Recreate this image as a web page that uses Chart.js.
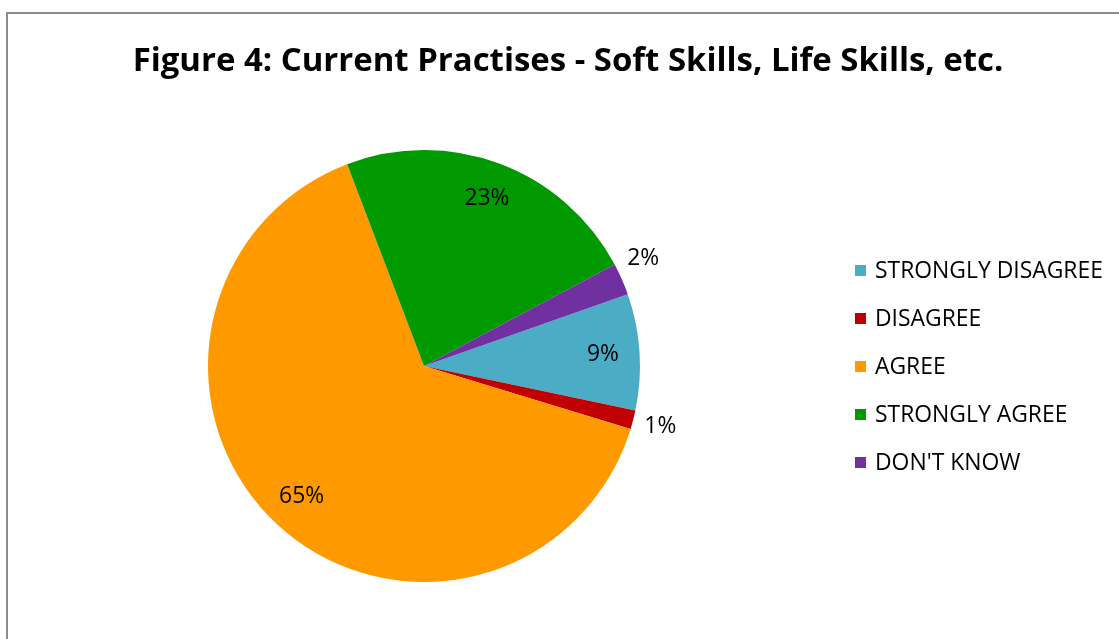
<!DOCTYPE html>
<html>
<head>
<meta charset="utf-8">
<script src="https://cdn.jsdelivr.net/npm/chart.js@4/dist/chart.umd.min.js"></script>
<style>
html,body{margin:0;padding:0;background:#fff;}
canvas{display:block;}
</style>
</head>
<body>
<canvas id="c" width="1119" height="639"></canvas>
<script>
const titleText = 'Figure 4: Current Practises - Soft Skills, Life Skills, etc.';
const categories = ['STRONGLY DISAGREE', 'DISAGREE', 'AGREE', 'STRONGLY AGREE', "DON'T KNOW"];
const values = [8.7, 1.4, 64.5, 23.0, 2.4];
const valueLabels = ['9%', '1%', '65%', '23%', '2%'];
const colors = ['#4BACC6', '#C00000', '#FF9900', '#009900', '#7030A0'];

const FONT = '"Open Sans", "Liberation Sans", sans-serif';

function fitFont(ctx, text, weight, baseSize, targetWidth) {
  ctx.font = weight + ' ' + baseSize + 'px ' + FONT;
  const w = ctx.measureText(text).width;
  return baseSize * targetWidth / w;
}

const decor = {
  id: 'decor',
  beforeDraw(chart) {
    const ctx = chart.ctx;
    ctx.save();
    ctx.fillStyle = '#fff';
    ctx.fillRect(0, 0, chart.width, chart.height);
    ctx.strokeStyle = '#8c8c8c';
    ctx.lineWidth = 2;
    ctx.beginPath();
    ctx.moveTo(7, chart.height + 5);
    ctx.lineTo(7, 13);
    ctx.lineTo(chart.width + 5, 13);
    ctx.stroke();
    // title
    const ts = fitFont(ctx, titleText, 'bold', 30, 871);
    ctx.font = 'bold ' + ts + 'px ' + FONT;
    ctx.fillStyle = '#000';
    ctx.textAlign = 'center';
    ctx.textBaseline = 'middle';
    ctx.fillText(titleText, 568, 62);
    ctx.restore();
  },
  afterDraw(chart) {
    const ctx = chart.ctx;
    const meta = chart.getDatasetMeta(0);
    ctx.save();
    // data labels
    ctx.fillStyle = '#000';
    ctx.textAlign = 'center';
    ctx.textBaseline = 'middle';
    const ds = fitFont(ctx, '65%', 'normal', 20, 45);
    ctx.font = ds + 'px ' + FONT;
    meta.data.forEach((arc, i) => {
      const p = arc.getProps(['x', 'y', 'startAngle', 'endAngle', 'outerRadius'], true);
      let mid = (p.startAngle + p.endAngle) / 2;
      const small = values[i] < 5;
      const r = small ? p.outerRadius + 28 : p.outerRadius * 0.83;
      if (small && Math.cos(mid) > 0 && Math.sin(mid) < 0) mid -= 0.04;
      ctx.fillText(valueLabels[i], p.x + Math.cos(mid) * r, p.y + Math.sin(mid) * r);
    });
    // legend
    const ls = fitFont(ctx, categories[0], 'normal', 20, 228);
    ctx.font = ls + 'px ' + FONT;
    ctx.textAlign = 'left';
    categories.forEach((c, i) => {
      const y = 270 + i * 48;
      ctx.fillStyle = colors[i];
      ctx.fillRect(855, y - 5, 11, 11);
      ctx.fillStyle = '#000';
      ctx.fillText(c, 875, y + 1);
    });
    ctx.restore();
  }
};

new Chart(document.getElementById('c'), {
  type: 'pie',
  data: {
    labels: categories,
    datasets: [{
      data: values,
      backgroundColor: colors,
      borderWidth: 0
    }]
  },
  options: {
    responsive: false,
    animation: false,
    rotation: 70.6,
    layout: { padding: { left: 208, right: 479, top: 150, bottom: 57 } },
    plugins: {
      legend: { display: false },
      title: { display: false },
      tooltip: { enabled: false }
    }
  },
  plugins: [decor]
});
</script>
</body>
</html>
